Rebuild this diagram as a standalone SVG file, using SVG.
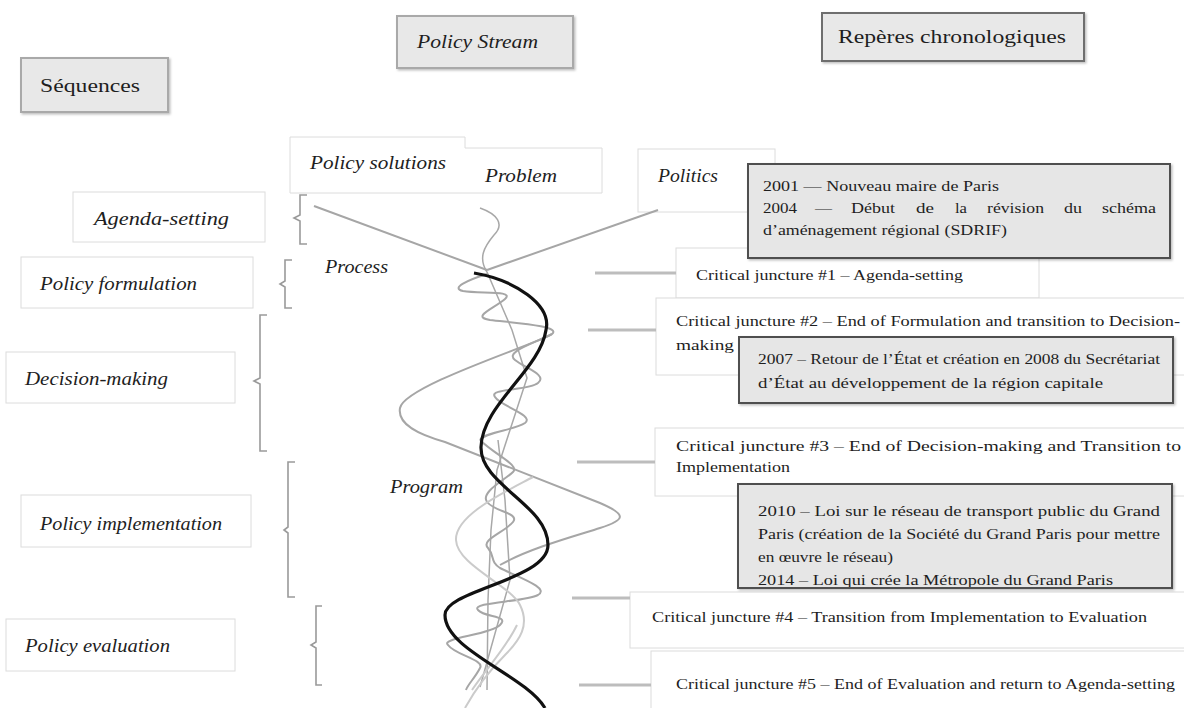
<svg xmlns="http://www.w3.org/2000/svg" width="1184" height="708" viewBox="0 0 1184 708">
<defs>
<style>
.gbox{fill:#e8e8e8;stroke:#a9a9a9;stroke-width:2}
.rbox{fill:#e8e8e8;stroke:#6e6e6e;stroke-width:2}
.dbox{fill:#e6e6e6;stroke:#4f4f4f;stroke-width:2}
.wbox{fill:#ffffff;stroke:#dcdcdc;stroke-width:1}
.lab{font-family:"Liberation Serif","DejaVu Serif",serif;font-style:italic;font-size:19px;fill:#1e1e1e}
.hd{font-family:"Liberation Serif","DejaVu Serif",serif;font-size:18px;fill:#1e1e1e}
.txt{font-family:"Liberation Serif","DejaVu Serif",serif;font-size:14.5px;fill:#1e1e1e}
.br{fill:none;stroke:#9a9a9a;stroke-width:1.6}
.con{fill:none;stroke:#bdbdbd;stroke-width:3}
.g{fill:none;stroke:#a6a6a6;stroke-width:2}
.gl{fill:none;stroke:#cbcbcb;stroke-width:2}
.gt{fill:none;stroke:#a8a8a8;stroke-width:1.5}
.blk{fill:none;stroke:#111;stroke-width:3.2}
</style>
<filter id="sh" x="-5%" y="-10%" width="115%" height="130%">
<feDropShadow dx="1.5" dy="1.5" stdDeviation="1" flood-color="#000" flood-opacity="0.25"/>
</filter>
<clipPath id="c2010"><rect x="738" y="484" width="434" height="103"/></clipPath>
</defs>
<rect width="1184" height="708" fill="#ffffff"/>

<!-- headers -->
<g id="sequences"><rect class="gbox" x="21" y="58" width="147" height="54" filter="url(#sh)"/><text class="hd" x="40" y="92" textLength="100" lengthAdjust="spacingAndGlyphs">Séquences</text></g>
<g id="policy-stream"><rect class="gbox" x="397" y="16" width="176" height="52" filter="url(#sh)"/><text class="lab" x="417" y="48" font-size="17" textLength="121" lengthAdjust="spacingAndGlyphs">Policy Stream</text></g>
<g id="reperes"><rect class="rbox" x="822" y="13" width="262" height="48" filter="url(#sh)"/><text class="hd" x="838" y="43" textLength="228" lengthAdjust="spacingAndGlyphs">Repères chronologiques</text></g>

<!-- stream boxes -->
<g id="problem"><path d="M465,148 H602 V193 H465 Z" fill="#fff" stroke="none"/><path d="M465,148 H602 V193 H465" fill="none" stroke="#dcdcdc"/><text class="lab" x="485" y="182" textLength="72" lengthAdjust="spacingAndGlyphs">Problem</text></g>
<g id="policy-solutions"><path d="M465,148 V137 H290 V193 H465" fill="#fff" stroke="#dcdcdc"/><text class="lab" x="310" y="169" textLength="136" lengthAdjust="spacingAndGlyphs">Policy solutions</text></g>
<g id="politics"><rect class="wbox" x="638" y="149" width="137" height="63"/><text class="lab" x="658" y="182" textLength="60" lengthAdjust="spacingAndGlyphs">Politics</text></g>

<!-- sequence labels -->
<g id="agenda-setting"><rect class="wbox" x="73" y="192" width="192" height="50"/><text class="lab" x="94" y="225" textLength="135" lengthAdjust="spacingAndGlyphs">Agenda-setting</text></g>
<g id="policy-formulation"><rect class="wbox" x="21" y="257" width="232" height="51"/><text class="lab" x="40" y="290" textLength="157" lengthAdjust="spacingAndGlyphs">Policy formulation</text></g>
<g id="decision-making"><rect class="wbox" x="6" y="352" width="229" height="51"/><text class="lab" x="25" y="385" textLength="143" lengthAdjust="spacingAndGlyphs">Decision-making</text></g>
<g id="policy-implementation"><rect class="wbox" x="21" y="495" width="230" height="52"/><text class="lab" x="40" y="530" textLength="182" lengthAdjust="spacingAndGlyphs">Policy implementation</text></g>
<g id="policy-evaluation"><rect class="wbox" x="6" y="619" width="229" height="52"/><text class="lab" x="25" y="652" textLength="145" lengthAdjust="spacingAndGlyphs">Policy evaluation</text></g>

<!-- brackets -->
<g id="brackets">
<path class="br" d="M307,195 H300 V215 L294,218 L300,221 V244 H307"/>
<path class="br" d="M292,260 H285 V281 L280,284 L285,287 V308 H292"/>
<path class="br" d="M267,315 H260 V378 L254,381 L260,384 V451 H267"/>
<path class="br" d="M295,462 H288 V527 L284,530 L288,533 V597 H295"/>
<path class="br" d="M322,606 H316 V642 L311,645 L316,648 V685 H322"/>
</g>

<!-- process / program labels -->
<g id="process"><text class="lab" x="325" y="273" textLength="63" lengthAdjust="spacingAndGlyphs">Process</text></g>
<g id="program"><text class="lab" x="390" y="493" textLength="73" lengthAdjust="spacingAndGlyphs">Program</text></g>

<!-- timeline & juncture boxes -->
<g id="juncture-1"><rect class="wbox" x="676" y="248" width="363" height="50"/><text class="txt" x="696" y="280" textLength="267" lengthAdjust="spacingAndGlyphs">Critical juncture #1 – Agenda-setting</text></g>
<g id="milestone-2001"><rect class="dbox" x="748" y="164" width="422" height="94" filter="url(#sh)"/>
<text class="txt" x="763" y="191" textLength="236" lengthAdjust="spacingAndGlyphs">2001 — Nouveau maire de Paris</text>
<text class="txt" x="763" y="213" textLength="34" lengthAdjust="spacingAndGlyphs">2004</text>
<text class="txt" x="815" y="213" textLength="17" lengthAdjust="spacingAndGlyphs">—</text>
<text class="txt" x="851" y="213" textLength="44" lengthAdjust="spacingAndGlyphs">Début</text>
<text class="txt" x="916" y="213" textLength="18" lengthAdjust="spacingAndGlyphs">de</text>
<text class="txt" x="955" y="213" textLength="12" lengthAdjust="spacingAndGlyphs">la</text>
<text class="txt" x="987" y="213" textLength="57" lengthAdjust="spacingAndGlyphs">révision</text>
<text class="txt" x="1064" y="213" textLength="18" lengthAdjust="spacingAndGlyphs">du</text>
<text class="txt" x="1102" y="213" textLength="54" lengthAdjust="spacingAndGlyphs">schéma</text>
<text class="txt" x="763" y="235" textLength="244" lengthAdjust="spacingAndGlyphs">d’aménagement régional (SDRIF)</text></g>
<g id="juncture-2"><rect class="wbox" x="656" y="298" width="540" height="77"/>
<text class="txt" x="676" y="326" textLength="504" lengthAdjust="spacingAndGlyphs">Critical juncture #2 – End of Formulation and transition to Decision-</text>
<text class="txt" x="676" y="350" textLength="58" lengthAdjust="spacingAndGlyphs">making</text></g>
<g id="milestone-2007"><rect class="dbox" x="739" y="337" width="434" height="66" filter="url(#sh)"/>
<text class="txt" x="758" y="364" textLength="402" lengthAdjust="spacingAndGlyphs">2007 – Retour de l’État et création en 2008 du Secrétariat</text>
<text class="txt" x="758" y="388" textLength="345" lengthAdjust="spacingAndGlyphs">d’État au développement  de la région capitale</text></g>
<g id="juncture-3"><rect class="wbox" x="655" y="428" width="540" height="68"/>
<text class="txt" x="676" y="451" textLength="505" lengthAdjust="spacingAndGlyphs">Critical juncture  #3 – End of Decision-making and Transition to</text>
<text class="txt" x="676" y="472" textLength="114" lengthAdjust="spacingAndGlyphs">Implementation</text></g>
<g id="juncture-4"><rect class="wbox" x="630" y="592" width="566" height="56"/>
<text class="txt" x="652" y="622" textLength="495" lengthAdjust="spacingAndGlyphs">Critical juncture #4 – Transition from Implementation  to Evaluation</text></g>
<g id="milestone-2010"><rect class="dbox" x="738" y="484" width="434" height="104" filter="url(#sh)"/>
<g clip-path="url(#c2010)">
<text class="txt" x="758" y="516" textLength="402" lengthAdjust="spacingAndGlyphs">2010 – Loi sur le réseau de transport public du Grand</text>
<text class="txt" x="758" y="539" textLength="402" lengthAdjust="spacingAndGlyphs">Paris (création de la Société du Grand Paris pour mettre</text>
<text class="txt" x="758" y="562" textLength="135" lengthAdjust="spacingAndGlyphs">en œuvre le réseau)</text>
<text class="txt" x="758" y="585" textLength="355" lengthAdjust="spacingAndGlyphs">2014 – Loi qui crée la Métropole du Grand Paris</text>
</g></g>
<g id="juncture-5"><rect class="wbox" x="651" y="651" width="545" height="70"/>
<text class="txt" x="676" y="689" textLength="499" lengthAdjust="spacingAndGlyphs">Critical juncture #5 – End of Evaluation and  return to Agenda-setting</text></g>

<!-- connectors and streams -->
<g id="connectors">
<line class="con" x1="595" y1="273" x2="676" y2="273"/>
<line class="con" x1="588" y1="330" x2="656" y2="330"/>
<line class="con" x1="577" y1="462" x2="655" y2="462"/>
<line class="con" x1="572" y1="598" x2="630" y2="598"/>
<line class="con" x1="579" y1="685" x2="651" y2="685"/>
<line class="g" x1="314" y1="206" x2="487" y2="270"/>
<line class="g" x1="487" y1="270" x2="658" y2="210"/>
<path class="gt" d="M480,208 C497,214 505,224 494,235 C484,247 478,258 487,272"/>
<path class="gt" d="M487,272 L512,330 L527,378 L510,430 L497,470 L491,530 L488,600 L487,690"/>
<path class="gt" d="M498,440 L505,500 L510,580 L480,687"/>
<path class="g" d="M487,274 C468,280 450,288 463,291 C480,294 515,290 505,299 C495,308 470,317 490,320 C515,323 562,326 552,334 C540,343 405,385 400,408 C397,425 420,435 445,442 L600,503 C628,515 625,520 600,528 C575,536 530,548 500,565"/>
<path class="g" d="M552,334 C530,345 505,352 515,360 C525,368 548,375 538,383 C528,391 488,388 495,397 C500,406 535,415 525,423 C515,430 485,432 480,440"/>
<path class="g" d="M480,440 C495,455 520,465 513,472 C505,480 480,492 487,502 C495,512 520,513 513,522 C505,532 480,540 488,548 C495,556 490,562 500,568 C520,578 550,588 538,595 C525,602 470,602 478,610 C485,618 510,615 500,625 C490,635 440,638 448,645 C455,655 485,660 480,668 C475,678 468,684 466,690"/>
<path class="gl" d="M533,477 C505,492 455,515 456,540 C457,565 510,585 520,605 C530,625 520,640 505,655 C490,670 475,690 465,708"/>
<path class="gl" d="M472,690 C485,670 505,650 517,625"/>
<path class="blk" d="M474,273 C515,280 552,305 546,330 C540,370 482,405 481,447 C480,485 548,505 548,545 C548,580 445,590 445,615 C445,650 525,675 545,708"/>
</g>
</svg>
